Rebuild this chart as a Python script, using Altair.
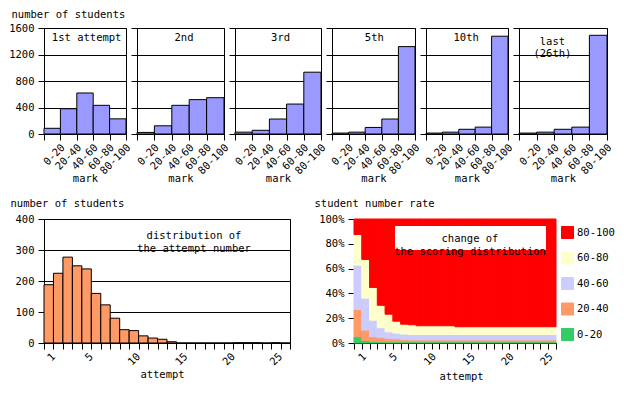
import altair as alt
import pandas as pd

FONT = "DejaVu Sans Mono"
FS = 10.5

# ---------------- data ----------------
mark_bins = ["0-20", "20-40", "40-60", "60-80", "80-100"]
panel_titles = ["1st attempt", "2nd", "3rd", "5th", "10th", "last\n(26th)"]
first_try = [86, 381, 619, 433, 229]
second_try = [24, 124, 433, 519, 548]
third_try = [28, 56, 226, 452, 933]
fifth_try = [14, 28, 99, 226, 1319]
tenth_try = [14, 28, 71, 104, 1476]
last_try = [14, 28, 71, 104, 1490]
panel_counts = [first_try, second_try, third_try, fifth_try, tenth_try, last_try]

attempts = [1, 2, 3, 4, 5, 6, 7, 8, 9, 10, 11, 12, 13, 14, 15, 16, 17, 18, 19, 20,
            21, 22, 23, 24, 25, 26]
attempt_counts = [188, 225, 277, 249, 239, 160, 123, 80, 43, 40, 23, 16, 12, 4, 0, 0,
                  0, 0, 0, 0, 1, 1, 1, 0, 1, 0]

# share (%) of students in each mark band, per attempt
rate_0_20 = [5.1, 1.9, 1.1, 1.0, 1.0, 1.0, 1.0, 1.0, 1.0, 1.0, 1.0, 1.0, 1.0, 1.0,
             1.0, 1.0, 1.0, 1.0, 1.0, 1.0, 1.0, 1.0, 1.0, 1.0, 1.0, 1.0]
rate_20_40 = [21.9, 8.5, 4.0, 3.3, 2.5, 2.3, 1.7, 1.5, 1.5, 1.5, 1.5, 1.5, 1.5, 1.5,
              1.5, 1.5, 1.5, 1.5, 1.5, 1.5, 1.5, 1.5, 1.5, 1.5, 1.5, 1.5]
rate_40_60 = [35.8, 25.8, 13.3, 8.0, 5.5, 4.7, 4.5, 4.4, 4.4, 4.4, 4.4, 4.4, 4.4, 4.4,
              4.4, 4.4, 4.4, 4.4, 4.4, 4.4, 4.4, 4.4, 4.4, 4.4, 4.4, 4.4]
rate_60_80 = [24.7, 31.2, 26.4, 18.1, 14.2, 9.6, 8.0, 7.8, 7.0, 7.0, 7.0, 7.0, 7.0, 6.2,
              6.2, 6.2, 6.2, 6.2, 6.2, 6.2, 6.2, 6.2, 6.2, 6.2, 6.2, 6.2]
rate_80_100 = [12.5, 32.6, 55.2, 69.6, 76.8, 82.4, 84.8, 85.3, 86.1, 86.1, 86.1, 86.1,
               86.1, 86.9, 86.9, 86.9, 86.9, 86.9, 86.9, 86.9, 86.9, 86.9, 86.9, 86.9,
               86.9, 86.9]
rate_series = [rate_0_20, rate_20_40, rate_40_60, rate_60_80, rate_80_100]

# ---------------- layout numbers ----------------
top_widths = [82, 87, 86, 83, 82, 88]
H1 = 106
title_fx = [0.52, 0.54, 0.53, 0.51, 0.49, 0.38]
title_y = [10, 10, 10, 10, 10, 14]

BL_W, BR_W, H2 = 246, 202, 124
ROW_GAP = 85

label_expr = "(datum.value == 1 || datum.value % 5 == 0) ? datum.label : ''"


def top_panel(i):
    w = top_widths[i]
    df = pd.DataFrame({"mark": mark_bins, "n": panel_counts[i]})
    if i == 0:
        yaxis = alt.Axis(values=[0, 400, 800, 1200, 1600], grid=True, format="d",
                         title="number of students", titleAngle=0, titleAlign="left",
                         titleBaseline="top", titleX=-33, titleY=-19)
    else:
        yaxis = alt.Axis(values=[0, 400, 800, 1200, 1600], grid=True, labels=False,
                         title=None)
    bars = alt.Chart(df).mark_bar(color="#9999FF", stroke="black", strokeWidth=1).encode(
        x=alt.X("mark:N", sort=mark_bins,
                scale=alt.Scale(paddingInner=0, paddingOuter=0),
                axis=alt.Axis(title="mark", labelAngle=-45, labelAlign="right",
                              labelBaseline="top", tickBand="extent",
                              labelOffset=w / 10 - 1, titleY=44,
                              titleBaseline="middle")),
        y=alt.Y("n:Q", scale=alt.Scale(domain=[0, 1600]), axis=yaxis),
    )
    txt = alt.Chart(pd.DataFrame({"t": [panel_titles[i]]})).mark_text(
        font=FONT, fontSize=FS, lineBreak="\n", align="center", baseline="middle",
        lineHeight=11.5, color="black"
    ).encode(text="t:N", x=alt.value(title_fx[i] * w), y=alt.value(title_y[i]))
    return alt.layer(bars, txt).properties(width=w, height=H1)


top_row = alt.hconcat(*[top_panel(i) for i in range(6)], spacing=11, bounds="flush")

# bottom left: distribution of attempt number
df_att = pd.DataFrame({"attempt": attempts, "n": attempt_counts})
bl_bars = alt.Chart(df_att).mark_bar(color="#FF9966", stroke="black", strokeWidth=1).encode(
    x=alt.X("attempt:O", scale=alt.Scale(paddingInner=0, paddingOuter=0),
            axis=alt.Axis(title="attempt", labelExpr=label_expr, labelAngle=-45,
                          labelAlign="right", labelBaseline="top", tickBand="extent",
                          labelOffset=1, titleY=31, titleX=118,
                          titleBaseline="middle")),
    y=alt.Y("n:Q", scale=alt.Scale(domain=[0, 400]),
            axis=alt.Axis(values=[0, 100, 200, 300, 400], grid=True,
                          title="number of students", titleAngle=0, titleAlign="left",
                          titleBaseline="top", titleX=-34, titleY=-21)),
)
bl_text = alt.Chart(pd.DataFrame({"t": ["distribution of\nthe attempt number"]})).mark_text(
    font=FONT, fontSize=FS, lineBreak="\n", align="center", baseline="middle",
    lineHeight=13, color="black"
).encode(text="t:N", x=alt.value(150), y=alt.value(16.5))
bottom_left = alt.layer(bl_bars, bl_text).properties(width=BL_W, height=H2)

# bottom right: change of the scoring distribution
rows = []
for k, (band, series) in enumerate(zip(mark_bins, rate_series)):
    for a, r in zip(attempts, series):
        rows.append({"attempt": a, "band": band, "rate": r, "k": k})
df_rate = pd.DataFrame(rows)
legend_order = ["80-100", "60-80", "40-60", "20-40", "0-20"]
legend_colors = ["#FF0000", "#FFFFCC", "#CCCCFF", "#FF9966", "#33CC66"]
br_bars = alt.Chart(df_rate).mark_bar(strokeWidth=1).encode(
    x=alt.X("attempt:O", scale=alt.Scale(paddingInner=0, paddingOuter=0),
            axis=alt.Axis(title="attempt", labelExpr=label_expr, labelAngle=-45,
                          labelAlign="right", labelBaseline="top", tickBand="extent",
                          labelOffset=BR_W / 52 - 1, titleY=33, titleX=107,
                          titleBaseline="middle")),
    y=alt.Y("rate:Q", stack="normalize",
            axis=alt.Axis(format="%", values=[0, 0.2, 0.4, 0.6, 0.8, 1.0], grid=False,
                          title="student number rate", titleAngle=0, titleAlign="left",
                          titleBaseline="top", titleX=-40, titleY=-21)),
    color=alt.Color("band:N", scale=alt.Scale(domain=legend_order, range=legend_colors),
                    legend=alt.Legend(title=None, orient="none", legendX=BR_W + 5,
                                      legendY=7, symbolType="square", symbolSize=144,
                                      symbolStrokeColor="black", symbolStrokeWidth=1,
                                      labelOffset=3, rowPadding=8.5, padding=0,
                                      labelFont=FONT, labelFontSize=FS)),
    stroke=alt.Stroke("band:N", scale=alt.Scale(domain=legend_order, range=legend_colors),
                      legend=None),
    order=alt.Order("k:Q", sort="ascending"),
)
br_box = alt.Chart(pd.DataFrame({"a": [0]})).mark_rect(color="white").encode(
    x=alt.value(41), x2=alt.value(192), y=alt.value(7), y2=alt.value(31))
br_text = alt.Chart(pd.DataFrame({"t": ["change of\nthe scoring distribution"]})).mark_text(
    font=FONT, fontSize=FS, lineBreak="\n", align="center", baseline="middle",
    lineHeight=13, color="black"
).encode(text="t:N", x=alt.value(116), y=alt.value(19.5))
bottom_right = alt.layer(br_bars, br_box, br_text).properties(
    width=BR_W, height=H2, view=alt.ViewBackground(stroke="transparent"))

bottom_row = alt.hconcat(bottom_left, bottom_right, spacing=64, bounds="flush").resolve_scale(
    color="independent", stroke="independent")

# with flush bounds the nested row counts as zero height, so spacing spans the top plot too
chart = alt.vconcat(top_row, bottom_row, spacing=H1 + ROW_GAP, bounds="flush").resolve_scale(
    color="independent", stroke="independent"
).properties(padding=0, background="white").configure_view(
    stroke="black", strokeWidth=1
).configure_axis(
    labelFont=FONT, labelFontSize=FS, titleFont=FONT, titleFontSize=FS,
    titleFontWeight="normal", labelColor="black", titleColor="black",
    tickColor="black", domainColor="black", gridColor="black", gridOpacity=1,
    tickSize=6, domainWidth=1, gridWidth=1, tickWidth=1
).configure_axisX(labelPadding=2).configure_axisY(labelPadding=4)

chart.save("out.html", embed_options={"renderer": "svg", "actions": False})
